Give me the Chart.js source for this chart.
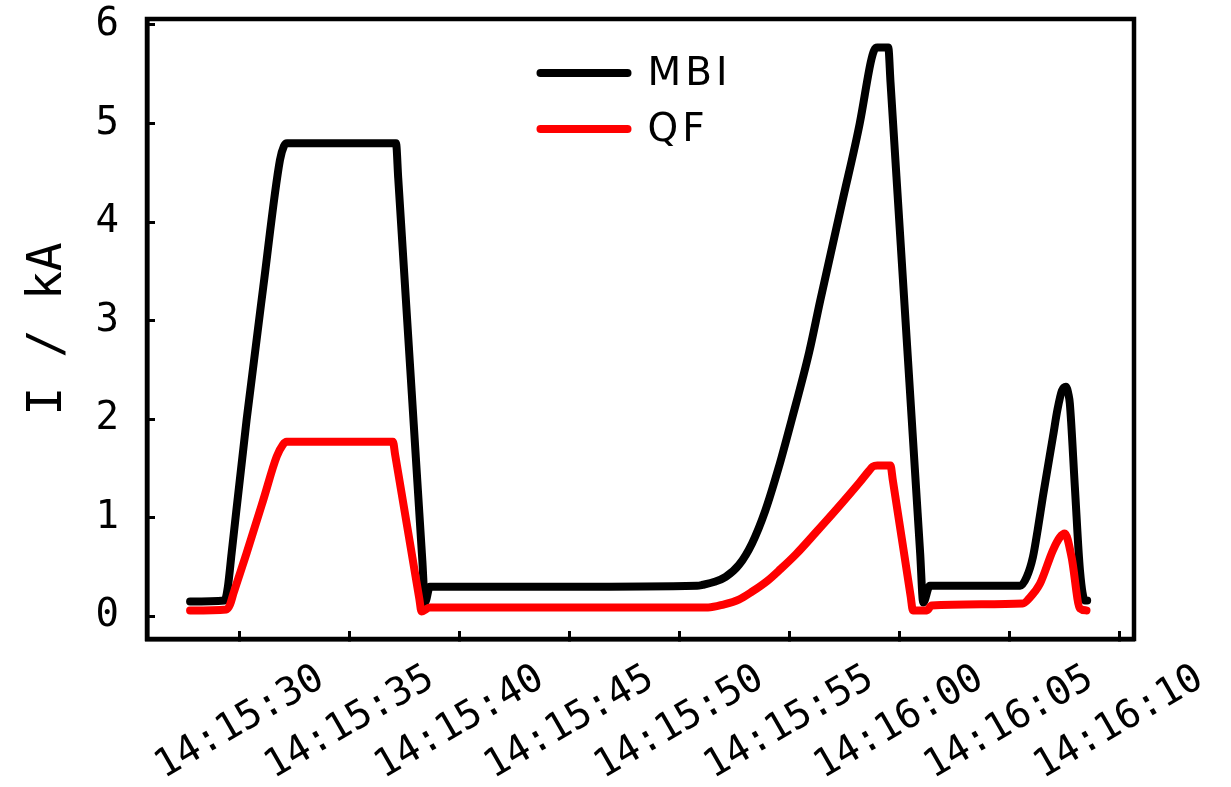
<!DOCTYPE html>
<html>
<head>
<meta charset="utf-8">
<script src="https://cdn.jsdelivr.net/npm/chart.js@4.4.0/dist/chart.umd.min.js"></script>
<style>
  html, body { margin: 0; padding: 0; background: #fff; }
  #wrap { width: 1231px; height: 787px; }
</style>
</head>
<body>
<div id="wrap"><canvas id="currentChart"></canvas></div>
<script>
// time in seconds after 14:15:00, current in kA
var mbiTime = [27.73, 29.3, 29.45, 29.62, 30.3, 31.06, 31.82, 32.0, 32.14, 37.1, 37.2, 38.3, 38.42, 38.64, 45.0, 50.8, 51.06, 51.6, 52.1, 52.7, 53.3, 53.9, 54.5, 55.1, 55.9, 56.4, 57.4, 58.2, 58.7, 58.85, 59.0, 59.5, 59.6, 60.95, 61.09, 61.39, 65.5, 65.8, 66.08, 66.3, 66.53, 66.99, 67.2, 67.4, 67.58, 67.7, 67.76, 67.99, 68.22, 68.45, 68.55];
var mbiCurrent = [0.15, 0.16, 0.30, 0.64, 1.99, 3.34, 4.63, 4.77, 4.80, 4.80, 4.45, 0.56, 0.14, 0.30, 0.30, 0.31, 0.32, 0.35, 0.40, 0.52, 0.74, 1.07, 1.50, 1.99, 2.68, 3.20, 4.20, 5.00, 5.62, 5.74, 5.77, 5.77, 5.42, 0.64, 0.14, 0.31, 0.31, 0.40, 0.60, 0.88, 1.21, 1.82, 2.10, 2.29, 2.33, 2.25, 2.16, 1.31, 0.47, 0.16, 0.16];

var qfTime = [27.73, 29.39, 29.55, 29.7, 30.3, 31.06, 31.67, 31.95, 32.12, 36.96, 37.06, 38.16, 38.26, 38.64, 45.0, 51.3, 52.0, 52.7, 53.3, 54.0, 54.6, 55.3, 56.2, 57.2, 58.2, 58.6, 58.8, 59.0, 59.6, 59.7, 60.52, 60.62, 61.26, 61.47, 65.62, 65.9, 66.4, 66.99, 67.3, 67.53, 67.84, 68.22, 68.52];
var qfCurrent = [0.06, 0.07, 0.12, 0.23, 0.64, 1.18, 1.62, 1.74, 1.77, 1.77, 1.64, 0.18, 0.05, 0.09, 0.09, 0.09, 0.12, 0.17, 0.25, 0.36, 0.48, 0.63, 0.85, 1.10, 1.36, 1.47, 1.52, 1.53, 1.53, 1.39, 0.20, 0.06, 0.06, 0.11, 0.13, 0.18, 0.33, 0.67, 0.80, 0.84, 0.60, 0.08, 0.06];

var xTickValues = [30, 35, 40, 45, 50, 55, 60, 65, 70];
var xTickLabels = ['14:15:30', '14:15:35', '14:15:40', '14:15:45', '14:15:50', '14:15:55', '14:16:00', '14:16:05', '14:16:10'];
var yTickValues = [0, 1, 2, 3, 4, 5, 6];

var seriesNames = ['MBI', 'QF'];
var seriesColors = ['#000000', '#ff0000'];

var monoFont = 'DejaVu Sans Mono';

function toPoints(xs, ys) {
    return xs.map(function(x, i) { return {x: x, y: ys[i]}; });
}

// frame on top/right, rotated x labels centred under ticks, legend inside the plot
var decorPlugin = {
    id: 'decor',
    afterDraw: function(chart) {
        var ctx = chart.ctx;
        var area = chart.chartArea;
        var xScale = chart.scales.x;

        ctx.save();
        ctx.strokeStyle = '#000';
        ctx.lineWidth = 4.5;
        ctx.strokeRect(area.left, area.top, area.right - area.left, area.bottom - area.top);

        ctx.fillStyle = '#000';
        ctx.font = '39px "' + monoFont + '"';
        ctx.textAlign = 'center';
        ctx.textBaseline = 'middle';
        xTickValues.forEach(function(v, i) {
            var px = xScale.getPixelForValue(v);
            ctx.save();
            ctx.translate(px, area.bottom + 84);
            ctx.rotate(-Math.PI / 6);
            ctx.fillText(xTickLabels[i], 0, 0);
            ctx.restore();
        });

        var cx = (area.left + area.right) / 2;
        ctx.lineCap = 'round';
        ctx.lineWidth = 8;
        ctx.textAlign = 'left';
        ctx.font = '39px "DejaVu Sans"';
        if ('letterSpacing' in ctx) ctx.letterSpacing = '4px';
        seriesNames.forEach(function(name, i) {
            var y = area.top + 54 + i * 56;
            ctx.strokeStyle = seriesColors[i];
            ctx.beginPath();
            ctx.moveTo(cx - 100, y);
            ctx.lineTo(cx - 13, y);
            ctx.stroke();
            ctx.fillText(name, cx + 7, y + 2);
        });
        ctx.restore();
    }
};

var ctxCurrent = document.getElementById('currentChart').getContext('2d');
var currentChart = new Chart(ctxCurrent, {
    type: 'line',
    data: {
        datasets: [{
            label: seriesNames[0],
            data: toPoints(mbiTime, mbiCurrent),
            borderColor: seriesColors[0],
            borderWidth: 8,
            order: 1
        }, {
            label: seriesNames[1],
            data: toPoints(qfTime, qfCurrent),
            borderColor: seriesColors[1],
            borderWidth: 8,
            order: 0
        }]
    },
    options: {
        responsive: true,
        maintainAspectRatio: false,
        animation: false,
        elements: {
            point: { radius: 0 },
            line: {
                cubicInterpolationMode: 'monotone',
                borderCapStyle: 'round',
                borderJoinStyle: 'round'
            }
        },
        layout: { padding: { top: 19, right: 97, left: 0, bottom: 0 } },
        plugins: {
            legend: { display: false },
            tooltip: { enabled: false }
        },
        scales: {
            x: {
                type: 'linear',
                min: 25.77,
                max: 70.68,
                afterBuildTicks: function(axis) {
                    axis.ticks = xTickValues.map(function(v) { return {value: v}; });
                },
                afterFit: function(axis) {
                    axis.height = 148;
                    axis.paddingLeft = 0;
                    axis.paddingRight = 0;
                },
                ticks: { display: false },
                grid: {
                    display: true,
                    drawOnChartArea: false,
                    drawTicks: true,
                    tickLength: -8,
                    tickWidth: 3,
                    tickColor: '#000'
                },
                border: { display: true, color: '#000', width: 4.5 }
            },
            y: {
                min: -0.23,
                max: 6.06,
                afterBuildTicks: function(axis) {
                    axis.ticks = yTickValues.map(function(v) { return {value: v}; });
                },
                afterFit: function(axis) {
                    axis.width = 147;
                    axis.paddingTop = 0;
                    axis.paddingBottom = 0;
                },
                ticks: {
                    color: '#000',
                    padding: 36,
                    font: { family: monoFont, size: 39 }
                },
                grid: {
                    display: true,
                    drawOnChartArea: false,
                    drawTicks: true,
                    tickLength: -8,
                    tickWidth: 3,
                    tickColor: '#000'
                },
                border: { display: true, color: '#000', width: 4.5 },
                title: {
                    display: true,
                    text: 'I / kA',
                    color: '#000',
                    font: { family: monoFont, size: 48 },
                    padding: { top: 20, bottom: 0 }
                }
            }
        }
    },
    plugins: [decorPlugin]
});
</script>
</body>
</html>
